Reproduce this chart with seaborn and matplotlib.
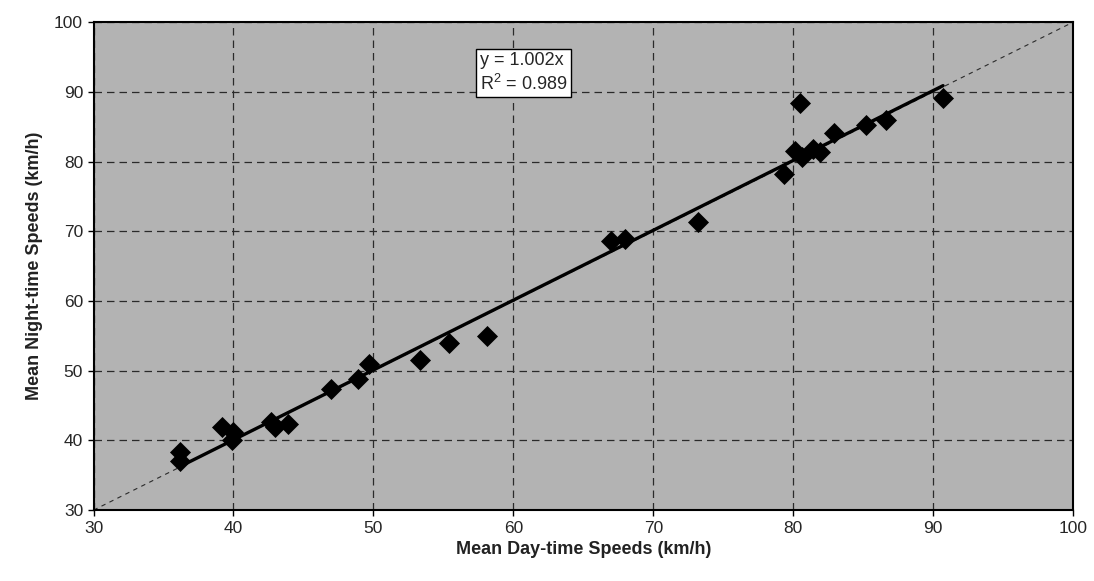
import matplotlib
matplotlib.use("Agg")
import matplotlib.pyplot as plt
import seaborn as sns
import numpy as np
import pandas as pd

# mean speeds (km/h)
day_speeds = [36.2, 36.2, 39.2, 40.0, 39.9, 42.7, 43.0, 43.9, 47.0, 48.9, 49.7,
              53.3, 55.4, 58.1, 67.0, 68.0, 73.2, 79.3, 80.5, 80.1, 80.6, 81.4,
              81.9, 82.9, 85.2, 86.6, 90.7]
night_speeds = [38.3, 37.0, 41.9, 41.2, 40.0, 42.6, 41.9, 42.4, 47.4, 48.8, 50.9,
                51.6, 53.9, 55.0, 68.6, 68.9, 71.3, 78.2, 88.4, 81.5, 80.6, 81.8,
                81.3, 84.1, 85.3, 86.0, 89.1]
slope = 1.002
r2 = 0.989
ticks = [30, 40, 50, 60, 70, 80, 90, 100]

df = pd.DataFrame({'day': day_speeds, 'night': night_speeds})

sns.set_style("ticks")
plt.rcParams['font.family'] = ['Liberation Sans', 'DejaVu Sans']

fig = plt.figure(figsize=(10.94, 5.81), dpi=100)
ax = fig.add_axes([0.0855, 0.122, 0.8955, 0.840])
ax.set_facecolor('#b3b3b3')

# reference line y = x
ax.plot([30, 100], [30, 100], color='#2a2a2a', linestyle=(0, (4, 4)), linewidth=0.8, zorder=1)

# fitted line through origin
xfit = np.array([min(day_speeds), max(day_speeds)])
ax.plot(xfit, slope * xfit, color='black', linewidth=2.4, zorder=2)

sns.scatterplot(data=df, x='day', y='night', marker='D', s=115, color='black',
                edgecolor='black', linewidth=0, ax=ax, zorder=3)

ax.set_xlim(30, 100)
ax.set_ylim(30, 100)
ax.set_xticks(ticks)
ax.set_yticks(ticks)
ax.grid(True, color='#2a2a2a', linestyle=(0, (6, 4)), linewidth=0.9)
ax.set_axisbelow(True)
ax.tick_params(labelsize=12.5, length=4, width=1, color='black')

for s in ax.spines.values():
    s.set_color('black')
    s.set_linewidth(1.5)

ax.set_xlabel('Mean Day-time Speeds (km/h)', fontsize=13, fontweight='bold', color='#222222')
ax.set_ylabel('Mean Night-time Speeds (km/h)', fontsize=13, fontweight='bold', color='#222222',
              labelpad=8)

ax.text(57.6, 92.7, f'y = {slope:.3f}x\n$\\mathregular{{R^2}}$ = {r2:.3f}', fontsize=13,
        ha='left', va='center', linespacing=1.25,
        bbox=dict(facecolor='white', edgecolor='black', boxstyle='square,pad=0.2', linewidth=1))

fig.savefig('out.png', dpi=100)
